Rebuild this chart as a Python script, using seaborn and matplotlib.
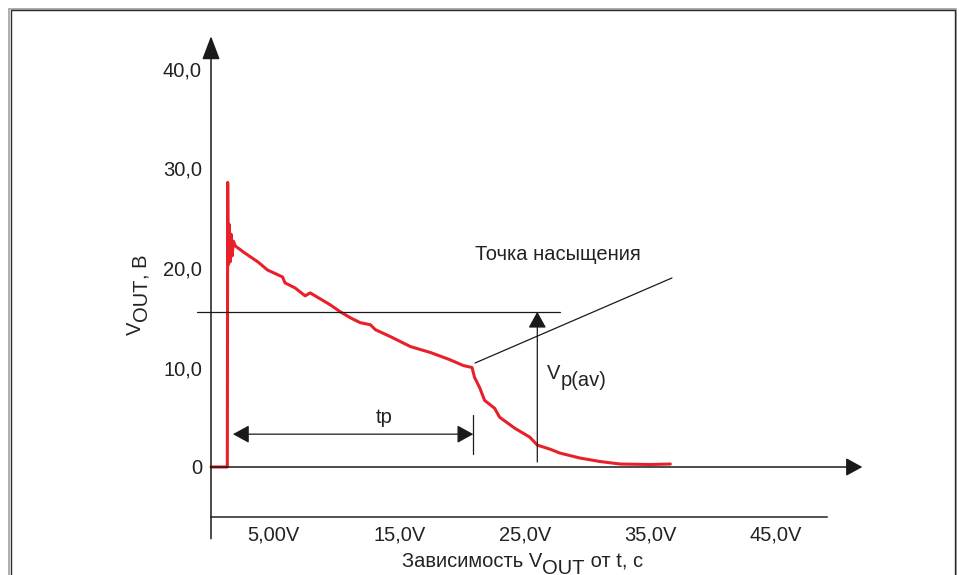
import numpy as np
import pandas as pd
import seaborn as sns
import matplotlib.pyplot as plt
from matplotlib.patches import Rectangle

# dati: tempo (asse x) e tensione V_OUT
t = [0.0, 1.30, 1.33, 1.37, 1.44, 1.52, 1.60, 1.68, 1.78, 1.95, 2.7, 3.75, 4.5, 5.7, 5.9,
     6.7, 7.5, 7.9, 9.5, 10.3, 11.1, 11.9, 12.7, 13.1, 14.3, 15.1, 15.9, 17.5, 19.0,
     20.1, 20.8, 21.0, 21.4, 21.8, 22.6, 23.0, 24.2, 25.4, 26.0, 27.0, 27.8, 29.4,
     31.0, 32.6, 35.0, 36.6]
v_out = [0.0, 0.0, 28.6, 20.3, 24.4, 20.6, 23.4, 21.2, 22.7, 22.2, 21.5, 20.6, 19.8, 19.1, 18.5,
         18.0, 17.2, 17.5, 16.3, 15.6, 15.0, 14.5, 14.3, 13.8, 13.1, 12.6, 12.1, 11.5, 10.8,
         10.2, 10.0, 9.0, 8.0, 6.7, 5.9, 5.0, 3.9, 3.0, 2.2, 1.8, 1.4, 0.9,
         0.55, 0.3, 0.25, 0.3]

x_ticks = [5, 15, 25, 35, 45]
x_tick_labels = ['5,00V', '15,0V', '25,0V', '35,0V', '45,0V']
y_ticks = [0, 10, 20, 30, 40]
y_tick_labels = ['0', '10,0', '20,0', '30,0', '40,0']

v_sat = 15.6      # livello orizzontale V_p(av)
t_p = 20.9        # fine intervallo tp

df = pd.DataFrame({'t': t, 'v': v_out})

sns.set_style('white')
plt.rcParams['font.family'] = ['Liberation Sans', 'DejaVu Sans']
plt.rcParams['font.size'] = 14.5

fig = plt.figure(figsize=(9.59, 5.75), dpi=100)
ax = fig.add_axes([0, 0, 1, 1])
ax.set_xlim(-211 / 12.55, (959 - 211) / 12.55)
ax.set_ylim((467 - 575) / 9.95, 467 / 9.95)

# cornice
fig.patches.append(Rectangle((9 / 959, -0.1), 947 / 959, 1.1 - 8.5 / 575, transform=fig.transFigure,
                             fill=False, edgecolor='#a0a0a0', linewidth=1.2))
fig.patches.append(Rectangle((10.5 / 959, -0.1), 944 / 959, 1.1 - 10.5 / 575, transform=fig.transFigure,
                             fill=False, edgecolor='#2a2a2a', linewidth=1.0))

# curva
sns.lineplot(data=df, x='t', y='v', color='#e8202a', linewidth=2.2, estimator=None, sort=False, ax=ax)

# assi
for s in ['top', 'right']:
    ax.spines[s].set_visible(False)
ax.spines['left'].set_position(('data', 0))
ax.spines['left'].set_visible(False)
ax.spines['bottom'].set_position(('data', -5.03))
ax.spines['bottom'].set_bounds(0, 49.1)
ax.spines['bottom'].set_color('#222222')
ax.spines['bottom'].set_linewidth(1.1)
ax.set_xticks(x_ticks)
ax.set_xticklabels(x_tick_labels)
ax.set_yticks(y_ticks)
ax.set_yticklabels(y_tick_labels)
ax.tick_params(axis='x', length=0, pad=6.0, labelsize=14.5, colors='#222222')
ax.tick_params(axis='y', length=0, pad=6.5, labelsize=14.5, colors='#222222')
ax.set_xlabel('')
ax.set_ylabel('')

freccia = dict(arrowstyle='-|>,head_length=1.0,head_width=0.55', mutation_scale=10,
               color='#1a1a1a', lw=0.9, shrinkA=0, shrinkB=0)
ax.annotate('', xy=(0, 43.3), xytext=(0, -7.2),
            arrowprops=dict(freccia, arrowstyle='-|>,head_length=1.45,head_width=0.55', lw=1.1))
ax.annotate('', xy=(51.9, 0), xytext=(0, 0), arrowprops=dict(freccia, lw=1.1))

# linea V_p(av)
ax.plot([-1.1, 27.8], [v_sat, v_sat], color='#1a1a1a', lw=0.9)
ax.annotate('', xy=(26.0, v_sat), xytext=(26.0, 0.5), arrowprops=freccia)
tv = ax.text(26.8, 8.4, 'V', ha='left', va='bottom', color='#222222')
ax.annotate('p(av)', xy=(1, 0), xycoords=tv, xytext=(0, -5), textcoords='offset points',
            ha='left', va='bottom', color='#222222')

# tp
ax.annotate('', xy=(1.75, 3.3), xytext=(t_p, 3.3),
            arrowprops=dict(freccia, arrowstyle='<|-|>,head_length=1.0,head_width=0.55'))
ax.plot([t_p, t_p], [1.3, 5.2], color='#1a1a1a', lw=0.9)
ax.text(13.8, 4.4, 'tp', ha='center', va='baseline', color='#222222')

# punto di saturazione
ax.plot([21.04, 36.73], [10.45, 19.0], color='#1a1a1a', lw=0.9)
ax.text(21.0, 20.8, 'Точка насыщения', ha='left', va='baseline', color='#222222')

# etichetta asse y
ty = ax.text(-6.8, 13.3, 'V', rotation=90, ha='left', va='bottom', color='#222222')
to = ax.annotate('OUT', xy=(0, 1), xycoords=ty, xytext=(4.5, 0), textcoords='offset points',
                 rotation=90, ha='left', va='bottom', color='#222222')
ax.annotate(', В', xy=(0, 1), xycoords=to, rotation=90, ha='left', va='bottom', color='#222222')

# etichetta asse x
tx = ax.text(15.2, -10.1, 'Зависимость V', ha='left', va='baseline', color='#222222')
ox = ax.annotate('OUT', xy=(1, 0), xycoords=tx, xytext=(0, -4.5), textcoords='offset points',
                 ha='left', va='bottom', color='#222222')
ax.annotate(' от t, с', xy=(1, 0), xycoords=ox, xytext=(0, 4.5), textcoords='offset points',
            ha='left', va='bottom', color='#222222')

plt.savefig('out.png', dpi=100)
